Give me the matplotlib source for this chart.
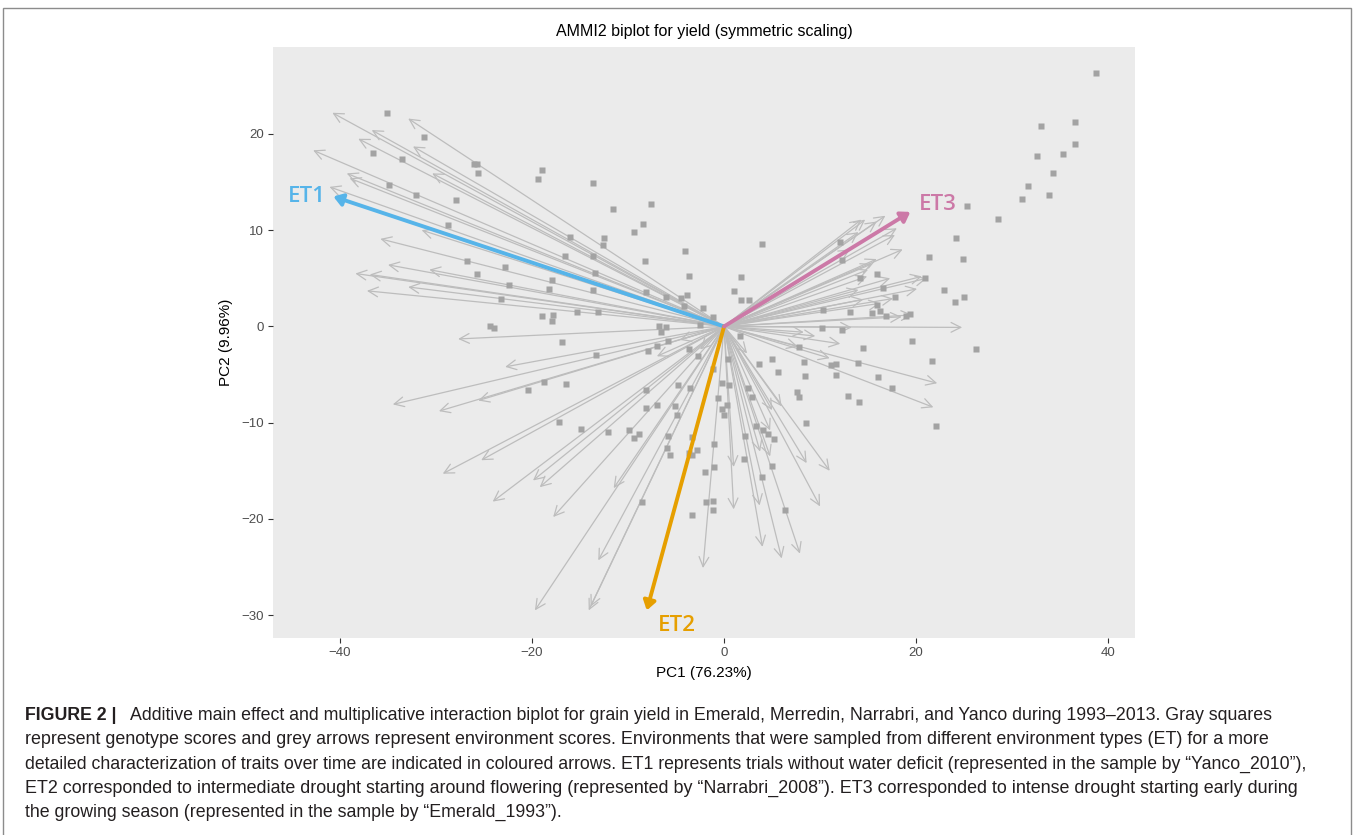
import matplotlib
matplotlib.use("Agg")
import matplotlib.pyplot as plt
from matplotlib.patches import Rectangle

# ---------------- data ----------------
# environment scores (arrow tips), PC1 / PC2
env_pc1 = [-40.8, -32.9, -36.7, -38.1, -32.4, -42.8, -39.3, -39.0, -41.1, -30.4,
           -31.5, -35.8, -35.0, -30.7, -38.4, -36.9, -32.9, -37.2,
           -27.7, -22.8, -34.5, -29.7, -25.6, -7.0, -29.3, -25.3, -24.1, -19.9,
           -19.2, -17.8, -11.5, -13.1, -19.7, -14.1, -13.9, -2.2, -4.6, -2.5,
           1.0, 1.0, 3.7, 4.0, 6.0, 7.9, 10.0, 11.0, 8.6, 6.0, 5.0, 4.8, 3.75,
           2.4, 4.8,
           24.8, 13.3, 12.1, 22.2, 21.8, 9.5, 8.3, 11.0, 7.7,
           14.7, 16.8, 15.9, 18.0, 17.8, 18.6, 15.9, 15.4, 17.3, 21.1, 20.6,
           20.1, 17.6, 16.25, 19.6, 18.5, 15.0, 14.9, 14.0, 14.5, 14.3, 14.0, 13.1]
env_pc2 = [22.2, 21.6, 20.4, 19.5, 18.7, 18.3, 15.9, 15.4, 14.5, 15.9,
           10.0, 9.1, 6.4, 5.9, 5.5, 5.4, 4.1, 3.7,
           -1.3, -4.2, -8.1, -8.8, -7.7, -3.1, -15.3, -13.9, -18.2, -16.0,
           -16.7, -19.8, -16.8, -24.3, -29.5, -29.5, -29.1, -25.1, -1.4, -2.4,
           -14.6, -19.0, -18.6, -22.9, -24.1, -23.6, -18.7, -15.0, -14.2, -8.3,
           -8.7, -13.5, -13.0, -2.8, -10.8,
           -0.1, -0.1, -1.8, -5.9, -8.4, -1.0, -0.6, -3.3, -2.1,
           11.1, 11.5, 10.9, 10.2, 9.5, 8.0, 7.0, 6.5, 5.0, 5.0, 5.2,
           3.9, 2.9, 2.4, 1.2, 1.0, 5.9, 5.2, 3.8, 2.8, 11.1, 9.8, 8.0]

# highlighted environment types
et_names = ["ET1", "ET2", "ET3"]
et_pc1 = [-40.7, -8.05, 19.4]
et_pc2 = [13.5, -29.5, 11.9]
et_colors = ["#56B4E9", "#E69F00", "#CC79A7"]
et_label_pc1 = [-43.5, -4.9, 22.3]
et_label_pc2 = [13.5, -31.1, 12.7]

# genotype scores (squares)
gen_pc1 = [-35.1, -31.3, -36.6, -33.5, -26.0, -25.7, -25.6, -19.0, -19.4, -13.7,
           -34.9, -32.1, -27.9, -11.6, -7.6, -8.4, -9.4, -12.5, -12.6, -16.0,
           -28.8, -4.1, -8.2, -13.7, -16.6, -13.4, -26.8, -22.8, -3.7, -25.7,
           -22.4, -17.9, -18.2, -13.6, -23.2, -15.3, -13.1, -19.0, -17.8, -17.9,
           -8.1, -6.1, -4.5, -3.9, -2.2, -1.2, -4.2, -24.4, -24.0, -6.8, -6.0,
           -6.6, -2.5,
           -16.9, -13.3, -7.9, -7.0, -5.8, -3.7, -2.7, -20.4, -18.8, -16.5,
           -8.1, -4.8, -3.5, -8.1, -7.0, -5.1, -4.9, -17.2, -14.9, -12.1, -9.9,
           -9.4, -8.9, -5.8, -5.9, -5.6, -3.7, -3.3, -2.8, -2.0, -1.0, -1.0,
           -0.6, -0.2, -1.2, -0.2, 0.0, -3.3, -8.6, -1.9, -1.2, -1.2, -3.3,
           10.2, 12.3, 14.5, 19.6, 26.25, 21.7, 1.7, 7.8, 5.0, 3.6, 5.6, 8.3,
           11.1, 11.7, 13.9, 11.7, 8.4, 16.0, 17.5, 12.9, 14.1, 7.6, 7.8, 22.1,
           8.5, 0.55, 2.5, 2.9, 0.3, 4.1, 4.6, 5.2, 3.3, 2.2, 2.1, 5.0, 4.0,
           6.35, 0.45,
           38.7, 33.0, 36.6, 36.5, 32.6, 35.3, 34.3, 31.7, 33.8, 31.0, 28.5,
           25.3, 24.2, 21.3, 24.9, 22.9, 25.0, 24.1, 20.9, 17.8, 16.6, 15.9,
           16.25, 15.4, 16.9, 13.1, 12.1, 4.0, 1.8, 1.0, 1.8, 2.6, 19.0, 19.4,
           10.3, 14.2, 12.3, 15.9]
gen_pc2 = [22.2, 19.7, 18.0, 17.4, 16.9, 16.9, 15.9, 16.3, 15.3, 14.9,
           14.7, 13.7, 13.1, 12.2, 12.7, 10.6, 9.8, 9.2, 8.5, 9.3,
           10.5, 7.8, 6.8, 7.3, 7.3, 5.5, 6.8, 6.2, 5.2, 5.4,
           4.3, 4.8, 3.9, 3.8, 2.9, 1.5, 1.5, 1.1, 1.2, 0.6,
           3.6, 3.1, 3.0, 3.3, 1.9, 1.0, 2.1, 0.05, -0.2, 0.05, -0.1,
           -0.6, 0.2,
           -1.6, -3.0, -2.5, -2.0, -1.5, -2.3, -3.1, -6.6, -5.8, -6.0,
           -6.6, -6.1, -6.4, -8.5, -8.2, -8.3, -9.2, -9.9, -10.7, -11.0, -10.8,
           -11.6, -11.2, -11.4, -12.6, -13.4, -13.1, -13.4, -12.8, -15.1, -14.6, -12.2,
           -7.4, -5.9, -4.4, -8.6, -9.2, -11.5, -18.2, -18.2, -18.1, -19.1, -19.6,
           -0.2, -0.4, -2.2, -1.5, -2.3, -3.6, -1.0, -2.1, -3.4, -3.9, -4.7, -3.7,
           -4.0, -3.9, -3.8, -5.0, -5.2, -5.3, -6.4, -7.2, -7.9, -6.8, -7.3, -10.3,
           -10.0, -6.1, -6.4, -7.3, -8.2, -10.8, -11.2, -11.7, -10.3, -11.4, -13.8, -14.5, -15.6,
           -19.1, -3.4,
           26.3, 20.8, 21.2, 19.0, 17.7, 17.9, 15.9, 14.6, 13.7, 13.2, 11.2,
           12.5, 9.2, 7.2, 7.0, 3.8, 3.1, 2.5, 5.0, 3.1, 4.0, 2.2,
           1.6, 1.4, 1.1, 1.5, 8.8, 8.6, 5.1, 3.7, 2.75, 2.75, 1.1, 1.3,
           1.7, 5.0, 6.9, 5.4]

x_ticks = [-40, -20, 0, 20, 40]
y_ticks = [20, 10, 0, -10, -20, -30]
title = "AMMI2 biplot for yield (symmetric scaling)"
x_label = "PC1 (76.23%)"
y_label = "PC2 (9.96%)"

caption_bold = "FIGURE 2 |"
caption_lines = [
    "Additive main effect and multiplicative interaction biplot for grain yield in Emerald, Merredin, Narrabri, and Yanco during 1993\u20132013. Gray squares",
    "represent genotype scores and grey arrows represent environment scores. Environments that were sampled from different environment types (ET) for a more",
    "detailed characterization of traits over time are indicated in coloured arrows. ET1 represents trials without water deficit (represented in the sample by \u201cYanco_2010\u201d),",
    "ET2 corresponded to intermediate drought starting around flowering (represented by \u201cNarrabri_2008\u201d). ET3 corresponded to intense drought starting early during",
    "the growing season (represented in the sample by \u201cEmerald_1993\u201d).",
]

# ---------------- figure ----------------
W, H = 1355, 835
fig = plt.figure(figsize=(W / 100, H / 100), dpi=100)
plt.rcParams['font.family'] = ['Liberation Sans', 'DejaVu Sans']

# outer frame
fig.patches.append(Rectangle((3 / W, -0.05), (1351 - 3) / W, 1.05 - 8 / H,
                             transform=fig.transFigure, fill=False,
                             edgecolor="#8c8c8c", lw=1.0))

ax = fig.add_axes([273.3 / W, 1 - 638.3 / H, (1135 - 273.3) / W, (638.3 - 47.3) / H])
ax.set_facecolor("#EBEBEB")
ax.set_xlim(-46.95, 42.8)
ax.set_ylim(-32.4, 29.0)
for s in ax.spines.values():
    s.set_visible(False)

# grey environment arrows
for x, y in zip(env_pc1, env_pc2):
    ax.annotate("", xy=(x, y), xytext=(0, 0),
                arrowprops=dict(arrowstyle="->,head_length=0.7,head_width=0.35",
                                color="#BDBDBD", lw=0.9, shrinkA=0, shrinkB=0,
                                mutation_scale=10), zorder=2)

# genotype squares
ax.plot(gen_pc1, gen_pc2, linestyle="none", marker="s", ms=4.3,
        color="#A3A3A3", mec="none", zorder=3)

# coloured ET arrows
for name, x, y, c, lx, ly in zip(et_names, et_pc1, et_pc2, et_colors,
                                 et_label_pc1, et_label_pc2):
    ax.annotate("", xy=(x, y), xytext=(0, 0),
                arrowprops=dict(arrowstyle="-|>,head_length=0.45,head_width=0.3",
                                color=c, lw=2.8, shrinkA=0, shrinkB=0,
                                mutation_scale=12), zorder=4)
    ax.text(lx, ly, name, color=c, fontsize=16, fontweight="semibold",
            family=["Open Sans", "DejaVu Sans"], ha="center", va="center", zorder=5)

ax.set_xticks(x_ticks)
ax.set_yticks(y_ticks)
ax.tick_params(axis="both", length=3.5, width=0.8, color="#333333",
               labelcolor="#4D4D4D", labelsize=9.5, pad=3)
ax.set_xlabel(x_label, fontsize=11, color="black", labelpad=5)
ax.set_ylabel(y_label, fontsize=11, color="black", labelpad=6)
ax.set_title(title, fontsize=11.5, color="black", pad=8)

# caption: each line fitted to the width it has in the reference
fig.canvas.draw()
r = fig.canvas.get_renderer()
ys = [716, 740, 764, 788, 812]
x_left = 25
x_right = [1282, 1273, 1310, 1301, 583]
base_fs = 12.0
col = "#231F20"

tb = fig.text(x_left / W, 1 - ys[0] / H, caption_bold, fontsize=base_fs,
              fontweight="bold", color=col, va="center", ha="left")
texts = []
for i, (line, y) in enumerate(zip(caption_lines, ys)):
    t = fig.text(x_left / W, 1 - y / H, line, fontsize=base_fs, color=col,
                 va="center", ha="left")
    texts.append(t)

fig.canvas.draw()
# first line: bold lead + gap + regular text
bw = tb.get_window_extent(r).width
gap = 13.0 * base_fs / 12.0
w0 = texts[0].get_window_extent(r).width
s0 = (x_right[0] - x_left) / (bw + gap + w0)
fs_list = [base_fs * s0]
for i in range(1, len(texts)):
    w = texts[i].get_window_extent(r).width
    fs_list.append(base_fs * (x_right[i] - x_left) / w)
# keep the short last line at the mean size of the others
fs_list[-1] = sum(fs_list[:-1]) / (len(fs_list) - 1)
tb.set_fontsize(fs_list[0])
for t, f in zip(texts, fs_list):
    t.set_fontsize(f)
fig.canvas.draw()
bx1 = tb.get_window_extent(r).x1
texts[0].set_x((bx1 + gap * s0) / W)

fig.savefig("out.png", dpi=100, facecolor="white")
